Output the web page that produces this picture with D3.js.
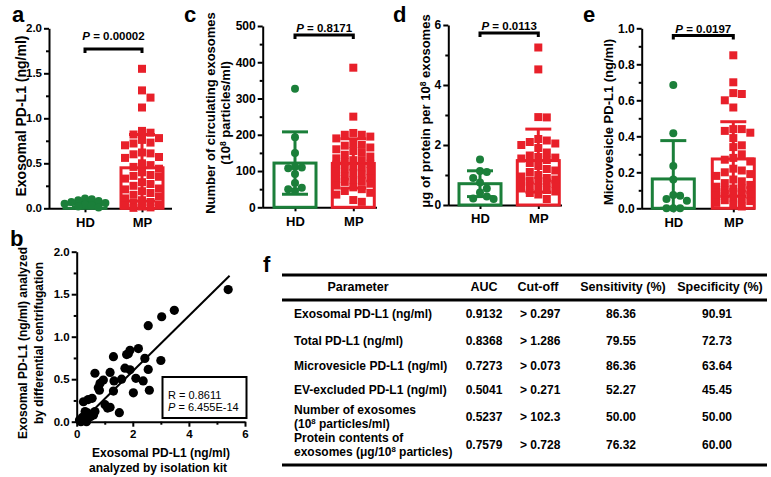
<!DOCTYPE html>
<html>
<head>
<meta charset="utf-8">
<script src="https://cdn.jsdelivr.net/npm/d3@7"></script>
<style>
body { margin: 0; background: #fff; }
svg { display: block; font-family: "Liberation Sans", Arial, sans-serif; font-weight: bold; }
</style>
</head>
<body>
<svg id="fig" width="771" height="477"></svg>
<script>
const groups = ["HD", "MP"];

// a: exosomal PD-L1 (ng/ml)
const hdA = [0.11, 0.10, 0.09, 0.08, 0.07, 0.06, 0.05, 0.04, 0.03, 0.02, 0.01];
const mpA = [1.55, 1.31, 1.23, 1.12, 0.86, 0.84, 0.82, 0.78, 0.76, 0.73, 0.72, 0.70, 0.62, 0.61, 0.60,
  0.57, 0.56, 0.50, 0.48, 0.46, 0.44, 0.40, 0.37, 0.36, 0.35, 0.33, 0.29, 0.27, 0.25, 0.22, 0.21,
  0.19, 0.17, 0.15, 0.13, 0.11, 0.09, 0.07, 0.06, 0.04, 0.03, 0.02, 0.01, 0.005];
const meanA = [0.045, 0.45];
const sdA = [0.03, 0.37];

// c: circulating exosomes (10^8 particles/ml)
const hdC = [327, 193, 150, 112, 110, 108, 92, 67, 54, 50, 45];
const mpC = [385, 250, 205, 200, 200, 195, 190, 175, 172, 170, 165, 160, 155, 150, 145, 140, 135,
  130, 128, 125, 120, 118, 112, 110, 105, 100, 98, 95, 90, 85, 80, 78, 75, 72, 70, 65, 60, 55,
  50, 45, 40, 35, 20, 15];
const meanC = [122, 121];
const sdC = [86, 68];

// d: µg protein per 10^8 exosomes
const hdD = [1.52, 1.13, 1.10, 0.90, 0.75, 0.55, 0.42, 0.28, 0.22, 0.20];
const mpD = [5.25, 4.52, 2.93, 2.92, 2.2, 2.15, 2.1, 2.05, 2.0, 1.9, 1.75, 1.65, 1.6, 1.58, 1.55,
  1.5, 1.4, 1.3, 1.2, 1.15, 1.1, 1.0, 0.95, 0.9, 0.85, 0.82, 0.8, 0.78, 0.75, 0.7, 0.65, 0.6,
  0.55, 0.5, 0.45, 0.4, 0.35, 0.2];
const meanD = [0.71, 1.48];
const sdD = [0.43, 1.05];

// e: microvesicle PD-L1 (ng/ml)
const hdE = [0.685, 0.417, 0.235, 0.16, 0.074, 0.07, 0.052, 0.042, 0, 0, 0];
const mpE = [0.85, 0.70, 0.64, 0.635, 0.6, 0.56, 0.44, 0.44, 0.43, 0.42, 0.39, 0.35, 0.34, 0.30,
  0.28, 0.27, 0.26, 0.22, 0.21, 0.20, 0.19, 0.18, 0.16, 0.15, 0.14, 0.13, 0.12, 0.11, 0.10, 0.09,
  0.08, 0.075, 0.07, 0.06, 0.05, 0.045, 0.04, 0.03, 0.02, 0.01, 0.08, 0.09, 0.1, 0.11];
const meanE = [0.163, 0.274];
const sdE = [0.213, 0.207];

const pValues = ["0.00002", "0.8171", "0.0113", "0.0197"];

// b: kit vs differential centrifugation
const bX = [5.4, 3.48, 3.03, 2.55, 1.31, 1.84, 1.9, 2.2, 1.78, 2.43, 3.0, 1.72, 1.9, 2.55, 1.19,
  0.65, 1.6, 2.11, 2.37, 0.95, 0.83, 1.33, 0.77, 1.31, 0.81, 2.02, 2.59, 0.24, 0.41, 0.55, 1.01,
  1.1, 1.19, 1.52, 0.3, 0.65, 0.6, 0.2, 0.1, 0.25, 0.35, 0.15, 0.4, 0.5];
const bY = [1.555, 1.31, 1.235, 1.13, 0.765, 0.80, 0.84, 0.86, 0.79, 0.745, 0.72, 0.63, 0.61, 0.615,
  0.58, 0.57, 0.50, 0.51, 0.48, 0.49, 0.45, 0.48, 0.40, 0.36, 0.37, 0.34, 0.37, 0.235, 0.26, 0.275,
  0.2, 0.16, 0.17, 0.106, 0.12, 0.12, 0.08, 0.05, 0.02, 0.03, 0.0, 0.0, 0.1, 0.06];
const fitSlope = 0.325;
const fitIntercept = -0.055;
const fitRange = [0.17, 5.45];
const corrR = "0.8611";
const corrP = "6.455E-14";

// f: ROC table
const tableHeader = ["Parameter", "AUC", "Cut-off", "Sensitivity (%)", "Specificity (%)"];
const tableParams = [["Exosomal PD-L1 (ng/ml)"], ["Total PD-L1 (ng/ml)"], ["Microvesicle PD-L1 (ng/ml)"],
  ["EV-excluded PD-L1 (ng/ml)"], ["Number of exosomes", "(10^8 particles/ml)"],
  ["Protein contents of", "exosomes (μg/10^8 particles)"]];
const aucVals = ["0.9132", "0.8368", "0.7273", "0.5041", "0.5237", "0.7579"];
const cutoffVals = ["> 0.297", "> 1.286", "> 0.073", "> 0.271", "> 102.3", "> 0.728"];
const sensVals = ["86.36", "79.55", "86.36", "52.27", "50.00", "76.32"];
const specVals = ["90.91", "72.73", "63.64", "45.45", "50.00", "60.00"];

const GREEN = "#1b7f3a";
const RED = "#e8202a";

const svg = d3.select("#fig");
svg.append("rect").attr("width", 771).attr("height", 477).attr("fill", "#fff");

// text with "^8" style superscripts; extra lines go in the same <text> element
function richText(sel, lines, fs, x, lineH) {
  const rise = fs * 0.33;
  lines.forEach((str, k) => {
    const parts = str.split(/\^(\d)/);
    let first = true;
    parts.forEach((p, i) => {
      if (!p) return;
      const ts = sel.append("tspan").text(p);
      if (i % 2) ts.attr("font-size", fs * 0.65).attr("dy", -rise);
      else if (i) ts.attr("dy", rise);
      if (first && k > 0) ts.attr("x", x).attr("dy", lineH);
      first = false;
    });
  });
}

function styleAxis(ax, fs) {
  ax.attr("font-family", null).attr("font-size", fs).attr("font-weight", "bold");
  ax.selectAll("line, path").attr("stroke-width", 2);
}

function letter(ch, x, y) {
  svg.append("text").attr("x", x).attr("y", y).attr("font-size", 22).text(ch);
}

// swarm inside a fixed number of columns, overlapping when it has to
function swarm(values, y, cx, step, h, maxCols) {
  const placed = [];
  const order = d3.range(values.length).sort((a, b) => values[b] - values[a]);
  order.forEach(i => {
    const py = y(values[i]);
    let best = null, bestCost = Infinity;
    for (let k = 0; k <= maxCols * 2; k++) {
      const px = cx + (k === 0 ? 0 : (k % 2 ? 1 : -1) * Math.ceil(k / 2)) * step;
      const cost = d3.sum(placed, p => Math.max(0, step - Math.abs(p.x - px)) * Math.max(0, h - Math.abs(p.y - py)));
      if (cost < bestCost - 1e-6) { bestCost = cost; best = px; }
      if (cost === 0) break;
    }
    placed.push({x: best, y: py});
  });
  return placed;
}

function dotPanel(cfg, hd, mp, mean, sd, pText) {
  const g = svg.append("g");
  const y = d3.scaleLinear().domain([0, cfg.max]).range([cfg.bottom, cfg.top]);
  const x = d3.scalePoint().domain(groups).range(cfg.cats);

  const ya = g.append("g").attr("transform", `translate(${cfg.left},0)`)
    .call(d3.axisLeft(y).tickValues(cfg.major).tickFormat(cfg.fmt).tickSize(5).tickSizeOuter(0).tickPadding(2));
  styleAxis(ya, cfg.tickFs);
  const ym = g.append("g").attr("transform", `translate(${cfg.left},0)`)
    .call(d3.axisLeft(y).tickValues(cfg.minor).tickFormat("").tickSize(3).tickSizeOuter(0));
  ym.select(".domain").remove();
  styleAxis(ym, cfg.tickFs);

  g.append("line").attr("x1", cfg.left).attr("x2", cfg.right)
    .attr("y1", cfg.bottom + 0.5).attr("y2", cfg.bottom + 0.5)
    .attr("stroke", "#000").attr("stroke-width", 2);
  const xa = g.append("g").attr("transform", `translate(0,${cfg.bottom})`)
    .call(d3.axisBottom(x).tickSize(4).tickSizeOuter(0).tickPadding(5));
  xa.select(".domain").remove();
  styleAxis(xa, 13);

  const colors = [GREEN, RED];
  const bw = 42;
  groups.forEach((grp, i) => {
    const cx = x(grp);
    g.append("rect").attr("x", cx - bw / 2).attr("y", y(mean[i]))
      .attr("width", bw).attr("height", y(0) - y(mean[i]))
      .attr("fill", "#fff").attr("stroke", colors[i]).attr("stroke-width", 3);
    const hi = y(mean[i] + sd[i]);
    const lo = y(Math.max(0, mean[i] - sd[i]));
    g.append("line").attr("x1", cx).attr("x2", cx).attr("y1", hi).attr("y2", lo)
      .attr("stroke", colors[i]).attr("stroke-width", 3);
    [hi, lo].forEach(v => g.append("line").attr("x1", cx - 13).attr("x2", cx + 13)
      .attr("y1", v).attr("y2", v).attr("stroke", colors[i]).attr("stroke-width", 3));
  });

  g.selectAll("circle.hd").data(swarm(hd, y, x("HD"), 6.8, 7, 3)).join("circle")
    .attr("cx", d => d.x).attr("cy", d => d.y).attr("r", 4).attr("fill", GREEN);
  g.selectAll("rect.mp").data(swarm(mp, y, x("MP"), 8.5, 8, 2)).join("rect")
    .attr("x", d => d.x - 4).attr("y", d => d.y - 4).attr("width", 8).attr("height", 8).attr("fill", RED);

  // significance bracket
  const by = y(cfg.bracket);
  g.append("path").attr("d", `M${x("HD")},${by + 4}V${by}H${x("MP")}V${by + 4}`)
    .attr("fill", "none").attr("stroke", "#000").attr("stroke-width", 3);
  const pt = g.append("text").attr("x", (x("HD") + x("MP")) / 2).attr("y", by - cfg.pGap)
    .attr("text-anchor", "middle").attr("font-size", 11.5);
  pt.append("tspan").attr("font-style", "italic").text("P");
  pt.append("tspan").text(" = " + pText);

  cfg.title.forEach((line, k) => {
    const t = g.append("text").attr("transform", `translate(${cfg.titleX[k]},${cfg.titleY}) rotate(-90)`)
      .attr("text-anchor", "middle").attr("font-size", cfg.titleFs);
    richText(t, [line], cfg.titleFs, 0, 0);
  });
}

dotPanel({left: 49, right: 172, top: 28.3, bottom: 208.3, max: 2, cats: [85, 142],
  major: [0, 0.5, 1, 1.5, 2], minor: [0.25, 0.75, 1.25, 1.75], fmt: d3.format(".1f"), tickFs: 11.5,
  bracket: 1.77, pGap: 9, title: ["Exosomal PD-L1 (ng/ml)"], titleX: [26], titleY: 116, titleFs: 14},
  hdA, mpA, meanA, sdA, pValues[0]);

dotPanel({left: 262.7, right: 377, top: 26, bottom: 207.3, max: 500, cats: [295, 353.3],
  major: [0, 100, 200, 300, 400, 500], minor: [50, 150, 250, 350, 450], fmt: d3.format("d"), tickFs: 12,
  bracket: 475, pGap: 3, title: ["Number of circulating exosomes", "(10^8 particles/ml)"],
  titleX: [215, 230], titleY: 113, titleFs: 13},
  hdC, mpC, meanC, sdC, pValues[1]);

dotPanel({left: 448.3, right: 562, top: 25, bottom: 205, max: 6, cats: [480, 538.3],
  major: [0, 2, 4, 6], minor: [1, 3, 5], fmt: d3.format("d"), tickFs: 12,
  bracket: 5.73, pGap: 3, title: ["μg of protein per 10^8 exosomes"], titleX: [430], titleY: 111, titleFs: 13},
  hdD, mpD, meanD, sdD, pValues[2]);

dotPanel({left: 641.7, right: 755, top: 28.3, bottom: 208.3, max: 1, cats: [673.3, 733.3],
  major: [0, 0.2, 0.4, 0.6, 0.8, 1.0], minor: [0.1, 0.3, 0.5, 0.7, 0.9], fmt: d3.format(".1f"), tickFs: 12,
  bracket: 0.96, pGap: 3, title: ["Microvesicle PD-L1 (ng/ml)"], titleX: [613], titleY: 122, titleFs: 13},
  hdE, mpE, meanE, sdE, pValues[3]);

letter("a", 12, 22);
letter("c", 184, 22);
letter("d", 393, 22);
letter("e", 583, 22);
letter("b", 10, 246);
letter("f", 263, 272);

// panel b scatter
(function () {
  const g = svg.append("g");
  const x = d3.scaleLinear().domain([0, 6]).range([76.7, 245]);
  const y = d3.scaleLinear().domain([0, 2]).range([421.7, 251.7]);
  const ya = g.append("g").attr("transform", "translate(76.7,0)")
    .call(d3.axisLeft(y).tickValues([0, 0.5, 1, 1.5, 2]).tickFormat(d3.format(".1f")).tickSize(5).tickSizeOuter(0).tickPadding(2));
  styleAxis(ya, 11.5);
  const ym = g.append("g").attr("transform", "translate(76.7,0)")
    .call(d3.axisLeft(y).tickValues([0.25, 0.75, 1.25, 1.75]).tickFormat("").tickSize(3).tickSizeOuter(0));
  ym.select(".domain").remove();
  styleAxis(ym, 11.5);
  const xa = g.append("g").attr("transform", "translate(0,421.7)")
    .call(d3.axisBottom(x).tickValues([0, 2, 4, 6]).tickFormat(d3.format("d")).tickSize(5).tickSizeOuter(0).tickPadding(3));
  styleAxis(xa, 11.5);
  const xm = g.append("g").attr("transform", "translate(0,421.7)")
    .call(d3.axisBottom(x).tickValues([1, 3, 5]).tickFormat("").tickSize(3).tickSizeOuter(0));
  xm.select(".domain").remove();
  styleAxis(xm, 11.5);

  g.selectAll("circle").data(d3.zip(bX, bY)).join("circle")
    .attr("cx", d => x(d[0])).attr("cy", d => y(d[1])).attr("r", 4.6).attr("fill", "#000");
  g.append("line").attr("x1", x(fitRange[0])).attr("y1", y(fitSlope * fitRange[0] + fitIntercept))
    .attr("x2", x(fitRange[1])).attr("y2", y(fitSlope * fitRange[1] + fitIntercept))
    .attr("stroke", "#000").attr("stroke-width", 2);

  g.append("rect").attr("x", 162.5).attr("y", 377).attr("width", 84).attr("height", 41)
    .attr("fill", "#fff").attr("stroke", "#000").attr("stroke-width", 2);
  g.append("text").attr("x", 168).attr("y", 399).attr("font-size", 11).attr("font-weight", "normal")
    .text("R = " + corrR);
  const pt = g.append("text").attr("x", 168).attr("y", 411).attr("font-size", 11).attr("font-weight", "normal");
  pt.append("tspan").attr("font-style", "italic").text("P");
  pt.append("tspan").text(" = " + corrP);

  [["Exosomal PD-L1 (ng/ml) analyzed", 27], ["by differential centrifugation", 43]].forEach(([s, tx]) =>
    g.append("text").attr("transform", `translate(${tx},343) rotate(-90)`)
      .attr("text-anchor", "middle").attr("font-size", 12).text(s));
  g.append("text").attr("x", 161).attr("y", 457).attr("text-anchor", "middle").attr("font-size", 12)
    .text("Exosomal PD-L1 (ng/ml)");
  g.append("text").attr("x", 158).attr("y", 472).attr("text-anchor", "middle").attr("font-size", 12)
    .text("analyzed by isolation kit");
})();

// panel f table
(function () {
  const g = svg.append("g").attr("font-size", 12);
  const x0 = 282, x1 = 767;
  [275, 300, 465].forEach(v => g.append("line").attr("x1", x0).attr("x2", x1)
    .attr("y1", v).attr("y2", v).attr("stroke", "#000").attr("stroke-width", 3));

  const headX = [358, 484, 538, 623, 720];
  tableHeader.forEach((h, i) => g.append("text").attr("x", headX[i]).attr("y", 291)
    .attr("text-anchor", "middle").attr("font-size", 12.5).text(h));

  const rowY = [314, 340.7, 366, 390, 417, 445];
  const lineH = 14;
  rowY.forEach((ry, r) => {
    const lines = tableParams[r];
    const t = g.append("text").attr("x", 294)
      .attr("y", ry + 4 - (lines.length - 1) * lineH / 2);
    richText(t, lines, 12, 294, lineH);
    g.append("text").attr("x", 484).attr("y", ry + 4).attr("text-anchor", "middle").text(aucVals[r]);
    g.append("text").attr("x", 520).attr("y", ry + 4).text(cutoffVals[r]);
    g.append("text").attr("x", 621).attr("y", ry + 4).attr("text-anchor", "middle").text(sensVals[r]);
    g.append("text").attr("x", 717).attr("y", ry + 4).attr("text-anchor", "middle").text(specVals[r]);
  });
})();
</script>
</body>
</html>
